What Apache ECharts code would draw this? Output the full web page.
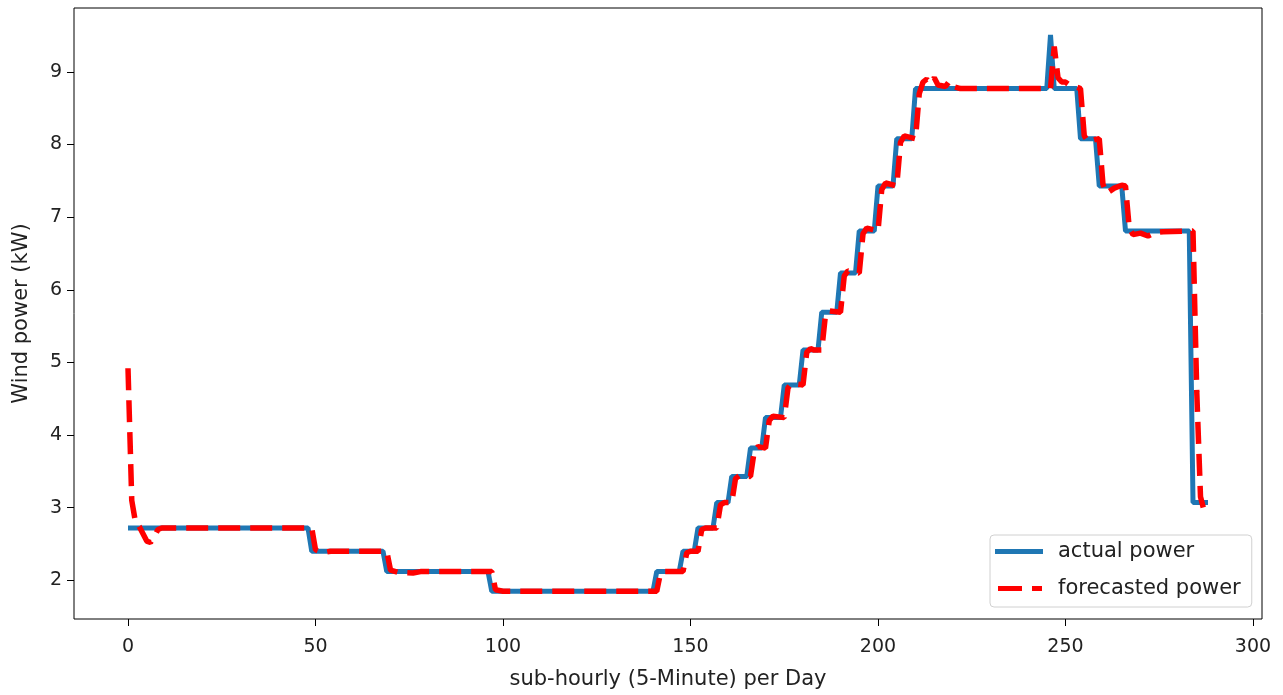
<!DOCTYPE html>
<html>
<head>
<meta charset="utf-8">
<script src="https://cdn.jsdelivr.net/npm/echarts@6/dist/echarts.min.js"></script>
<style>
  html, body { margin: 0; padding: 0; background: #fff; }
  #chart { width: 1283px; height: 695px; }
</style>
</head>
<body>
<div id="chart"></div>
<script>
// step corners of the measured series (5-minute index -> kW)
const actualX = [0, 48, 49, 68, 69, 96, 97, 140, 141, 147, 148, 151, 152, 156, 157, 160, 161, 165, 166, 169, 170, 174, 175, 179, 180, 184, 185, 189, 190, 194, 195, 199, 200, 204, 205, 209, 210, 245, 246, 247, 253, 254, 258, 259, 265, 266, 283, 284, 288];
const actualY = [2.72, 2.72, 2.40, 2.40, 2.12, 2.12, 1.85, 1.85, 2.12, 2.12, 2.40, 2.40, 2.72, 2.72, 3.07, 3.07, 3.43, 3.43, 3.82, 3.82, 4.24, 4.24, 4.69, 4.69, 5.17, 5.17, 5.69, 5.69, 6.23, 6.23, 6.81, 6.81, 7.43, 7.43, 8.08, 8.08, 8.77, 8.77, 9.51, 8.77, 8.77, 8.08, 8.08, 7.43, 7.43, 6.81, 6.81, 3.07, 3.07];

// forecast corners
const forecastX = [0, 1, 2, 3, 4, 5, 6, 7, 8, 9, 49, 50, 52, 54, 69, 70, 72, 76, 78, 97, 98, 100, 141, 142, 143, 148, 149, 150, 152, 153, 154, 157, 158, 159, 161, 162, 163, 166, 167, 168, 170, 171, 172, 175, 176, 177, 180, 181, 182, 183, 185, 186, 187, 190, 191, 192, 195, 196, 197, 200, 201, 202, 205, 206, 207, 210, 211, 212, 213, 214, 215, 216, 218, 219, 220, 222, 246, 247, 248, 249, 250, 251, 253, 254, 255, 256, 258, 259, 260, 261, 263, 265, 266, 267, 268, 270, 272, 274, 276, 284, 285, 286, 287, 288];
const forecastY = [4.92, 3.10, 2.80, 2.74, 2.64, 2.54, 2.52, 2.60, 2.70, 2.72, 2.72, 2.42, 2.38, 2.40, 2.40, 2.14, 2.11, 2.10, 2.12, 2.12, 1.87, 1.85, 1.85, 2.10, 2.12, 2.12, 2.38, 2.40, 2.40, 2.70, 2.72, 2.72, 3.04, 3.07, 3.07, 3.40, 3.44, 3.43, 3.78, 3.84, 3.82, 4.20, 4.26, 4.24, 4.65, 4.71, 4.69, 5.14, 5.19, 5.17, 5.17, 5.66, 5.71, 5.69, 6.19, 6.26, 6.23, 6.77, 6.85, 6.81, 7.38, 7.47, 7.43, 8.03, 8.12, 8.08, 8.70, 8.86, 8.90, 8.84, 8.92, 8.82, 8.80, 8.87, 8.80, 8.77, 8.77, 9.35, 8.92, 8.86, 8.86, 8.82, 8.79, 8.77, 8.12, 8.04, 8.07, 8.08, 7.45, 7.33, 7.40, 7.44, 7.43, 6.85, 6.76, 6.78, 6.74, 6.79, 6.80, 6.81, 4.60, 3.15, 2.95, 2.92];

const xTicks = [0, 50, 100, 150, 200, 250, 300];
const yTicks = [2, 3, 4, 5, 6, 7, 8, 9];

const font = 'DejaVu Sans';
const ink = '#222';

const chart = echarts.init(document.getElementById('chart'));

const toPairs = (xs, ys) => xs.map((x, i) => [x, ys[i]]);

const option = {
    animation: false,
    textStyle: { fontFamily: font },
    grid: {
        left: 74,
        right: 21,
        top: 8,
        bottom: 76,
        outerBoundsMode: 'none',
        show: true,
        borderColor: '#000',
        borderWidth: 1
    },
    xAxis: {
        type: 'value',
        min: -14.4,
        max: 302.4,
        name: 'sub-hourly (5-Minute) per Day',
        nameLocation: 'middle',
        nameGap: 50,
        nameTextStyle: { fontFamily: font, fontSize: 21, color: ink },
        axisLine: { show: false, onZero: false },
        splitLine: { show: false },
        axisTick: { show: true, length: 7, lineStyle: { color: '#000' }, customValues: xTicks },
        axisLabel: { fontFamily: font, fontSize: 19, color: ink, margin: 19, customValues: xTicks }
    },
    yAxis: {
        type: 'value',
        min: 1.467,
        max: 9.88,
        name: 'Wind power (kW)',
        nameLocation: 'middle',
        nameGap: 42,
        nameTextStyle: { fontFamily: font, fontSize: 21, color: ink },
        axisLine: { show: false, onZero: false },
        splitLine: { show: false },
        axisTick: { show: true, length: 7, lineStyle: { color: '#000' }, customValues: yTicks },
        axisLabel: { fontFamily: font, fontSize: 19, color: ink, margin: 12, customValues: yTicks }
    },
    legend: {
        left: 990,
        top: 535,
        orient: 'vertical',
        padding: [6, 11, 8, 5],
        itemGap: 16,
        itemWidth: 48,
        itemHeight: 5,
        backgroundColor: 'rgba(255,255,255,0.85)',
        borderColor: '#d0d0d0',
        borderWidth: 1,
        borderRadius: 4,
        textStyle: { fontFamily: font, fontSize: 21, color: ink, padding: [0, 0, 0, 10] },
        data: [
            { name: 'actual power', icon: 'rect' },
            { name: 'forecasted power', icon: 'path://M0,0 M3,0H27V5H3Z M37,0H47V5H37Z M48,5' }
        ]
    },
    series: [
        {
            name: 'actual power',
            type: 'line',
            data: toPairs(actualX, actualY),
            showSymbol: false,
            symbol: 'none',
            lineStyle: { color: '#1f77b4', width: 5 },
            itemStyle: { color: '#1f77b4' }
        },
        {
            name: 'forecasted power',
            type: 'line',
            data: toPairs(forecastX, forecastY),
            showSymbol: false,
            symbol: 'none',
            lineStyle: { color: '#ff0000', width: 5.5, type: [22, 10] },
            itemStyle: { color: '#ff0000' }
        }
    ]
};

chart.setOption(option);
</script>
</body>
</html>
